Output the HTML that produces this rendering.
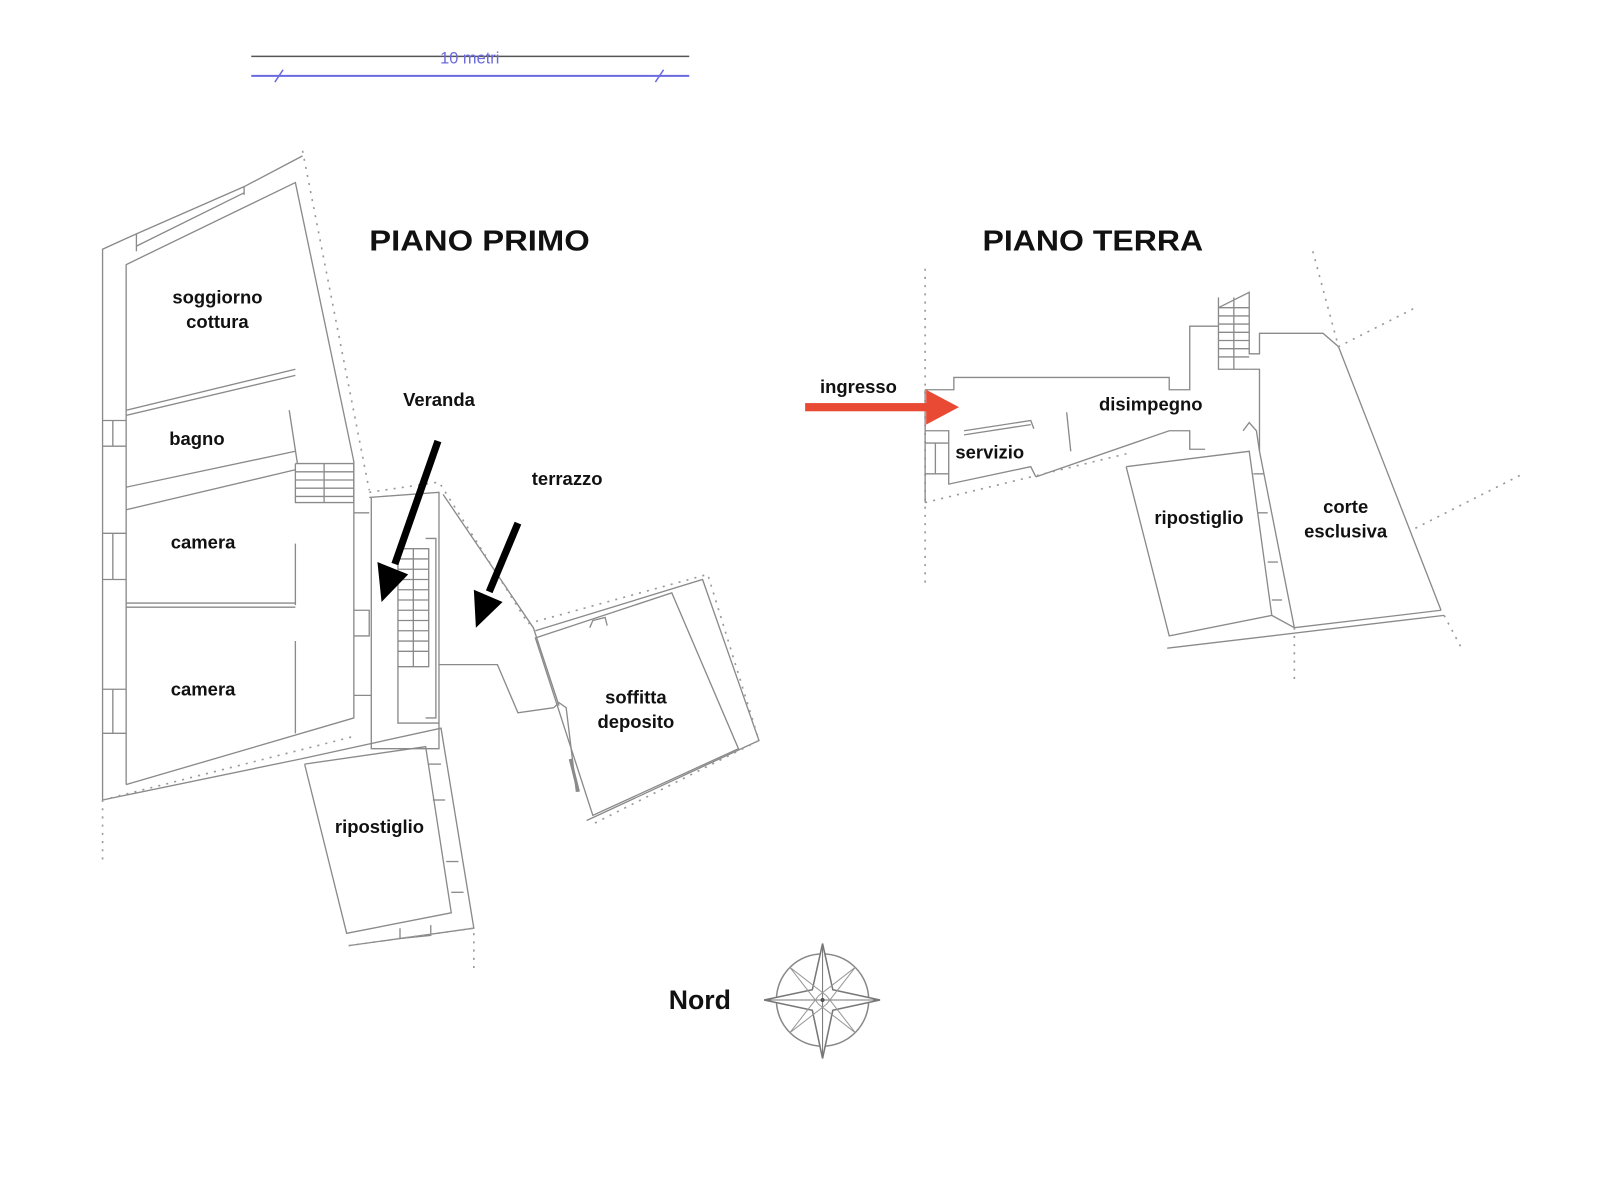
<!DOCTYPE html>
<html><head><meta charset="utf-8"><style>
html,body{margin:0;padding:0;background:#fff}
svg{display:block}
text{font-family:"Liberation Sans",Arial,sans-serif;font-weight:bold;fill:#111}
.w{fill:none;stroke:#8a8a8a;stroke-width:1.3}
.d{fill:none;stroke:#999;stroke-width:1.6;stroke-dasharray:2 6}
</style></head><body>
<svg width="1600" height="1200" viewBox="0 0 1560 1170" xmlns="http://www.w3.org/2000/svg">
<line x1="245" y1="55" x2="672" y2="55" stroke="#555" stroke-width="1.5"/>
<line x1="245" y1="74" x2="672" y2="74" stroke="#6a6ae0" stroke-width="2"/>
<line x1="268" y1="80" x2="276" y2="68" stroke="#6a6ae0" stroke-width="1.5"/>
<line x1="639" y1="80" x2="647" y2="68" stroke="#6a6ae0" stroke-width="1.5"/>
<text x="458" y="62" text-anchor="middle" font-size="16" style="fill:#6a6ae0;font-weight:normal">10 metri</text>

<text x="360" y="244" font-size="28" textLength="215" lengthAdjust="spacingAndGlyphs">PIANO PRIMO</text>
<text x="958" y="244" font-size="28" textLength="215" lengthAdjust="spacingAndGlyphs">PIANO TERRA</text>

<polyline class="w" points="100,780 100,243 133,228 238,182 295,152"/>
<polyline class="w" points="123,765 123,258 288,178 345,450 345,490"/>
<polyline class="w" points="133,240 238,188"/><polyline class="w" points="133,228 133,245"/><polyline class="w" points="238,182 238,190"/>
<polyline class="w" points="123,400 288,360"/><polyline class="w" points="123,405 288,366"/>
<polyline class="w" points="123,475 288,440"/><polyline class="w" points="282,400 290,452"/>
<polyline class="w" points="123,497 288,458"/>
<polyline class="w" points="123,588 288,588"/><polyline class="w" points="123,592 288,592"/>
<polyline class="w" points="288,530 288,590"/><polyline class="w" points="288,625 288,715"/>
<polyline class="w" points="123,765 345,700 345,490"/>
<polyline class="w" points="100,780 293,740"/>
<polyline class="w" points="100,410 123,410"/><polyline class="w" points="100,435 123,435"/><polyline class="w" points="110,410 110,435"/>
<polyline class="w" points="100,520 123,520"/><polyline class="w" points="100,565 123,565"/><polyline class="w" points="110,520 110,565"/>
<polyline class="w" points="100,672 123,672"/><polyline class="w" points="100,715 123,715"/><polyline class="w" points="110,672 110,715"/>
<polyline class="w" points="288,452 345,452 345,490 288,490 288,452"/>
<g class="w"><line x1="288" y1="460" x2="345" y2="460"/><line x1="288" y1="468" x2="345" y2="468"/><line x1="288" y1="476" x2="345" y2="476"/><line x1="288" y1="484" x2="345" y2="484"/><line x1="316" y1="452" x2="316" y2="490"/></g>
<polyline class="w" points="360,485 428,480 428,730 362,730 362,485"/>
<polyline class="w" points="345,500 360,500"/><polyline class="w" points="345,595 360,595 360,620 345,620"/>
<polyline class="w" points="345,678 362,678"/>
<polyline class="w" points="388,535 418,535 418,650 388,650 388,535"/>
<polyline class="w" points="388,650 388,705 428,705"/>
<polyline class="w" points="415,525 425,525 425,700 415,700"/>
<g class="w">
<line x1="388" y1="545" x2="418" y2="545"/><line x1="388" y1="555" x2="418" y2="555"/><line x1="388" y1="565" x2="418" y2="565"/><line x1="388" y1="575" x2="418" y2="575"/><line x1="388" y1="585" x2="418" y2="585"/><line x1="388" y1="595" x2="418" y2="595"/><line x1="388" y1="605" x2="418" y2="605"/><line x1="388" y1="615" x2="418" y2="615"/><line x1="388" y1="625" x2="418" y2="625"/><line x1="388" y1="635" x2="418" y2="635"/><line x1="403" y1="535" x2="403" y2="650"/></g>
<polyline class="w" points="432,482 520,612 545,688"/>
<polyline class="w" points="428,648 485,648 505,695 540,690"/>
<polyline class="d" points="360,480 428,470 515,608"/>
<polyline class="d" points="295,147 360,478"/>
<polyline class="w" points="297,745 415,728 440,890 338,910 297,745"/>
<polyline class="w" points="293,740 430,710 462,905 340,922"/>
<polyline class="w" points="418,745 430,745"/><polyline class="w" points="422,780 434,780"/><polyline class="w" points="435,840 447,840"/><polyline class="w" points="440,870 452,870"/>
<polyline class="w" points="390,905 390,915 420,912 420,902"/>
<polyline class="d" points="100,780 100,840"/><polyline class="d" points="100,780 345,718"/>
<polyline class="d" points="340,922 462,905 462,945"/>
<polygon class="w" points="522,622 655,578 720,730 578,795"/>
<polyline class="w" points="522,615 685,565 740,722 572,800"/>
<polyline class="d" points="515,608 690,560 740,722 575,805"/>
<polyline class="w" points="540,690 545,685 552,690 562,772"/>
<polyline class="w" points="556,740 564,772" style="stroke-width:3"/>
<polyline class="w" points="575,612 578,605 590,602 592,610"/>

<line x1="427" y1="430" x2="385" y2="550" stroke="#000" stroke-width="7"/>
<polygon points="372,587 368,548 398,560" fill="#000"/>
<line x1="505" y1="510" x2="477" y2="577" stroke="#000" stroke-width="7"/>
<polygon points="464,612 462,575 490,587" fill="#000"/>

<text x="212" y="296" text-anchor="middle" font-size="18">soggiorno</text>
<text x="212" y="320" text-anchor="middle" font-size="18">cottura</text>
<text x="192" y="434" text-anchor="middle" font-size="18">bagno</text>
<text x="198" y="535" text-anchor="middle" font-size="18">camera</text>
<text x="198" y="678" text-anchor="middle" font-size="18">camera</text>
<text x="428" y="396" text-anchor="middle" font-size="18">Veranda</text>
<text x="553" y="473" text-anchor="middle" font-size="18">terrazzo</text>
<text x="620" y="686" text-anchor="middle" font-size="18">soffitta</text>
<text x="620" y="710" text-anchor="middle" font-size="18">deposito</text>
<text x="370" y="812" text-anchor="middle" font-size="18">ripostiglio</text>

<polyline class="d" points="902,262 902,570"/>
<polyline class="w" points="902,380 930,380 930,368 1140,368 1140,380 1160,380 1160,318 1188,318"/>
<polyline class="w" points="902,380 902,490"/>
<polyline class="w" points="1188,300 1218,285 1218,345 1228,345 1228,325 1290,325 1305,338 1405,595"/>
<polyline class="w" points="1188,290 1188,360 1218,360"/>
<g class="w"><line x1="1188" y1="300" x2="1218" y2="300"/><line x1="1188" y1="308" x2="1218" y2="308"/><line x1="1188" y1="316" x2="1218" y2="316"/><line x1="1188" y1="324" x2="1218" y2="324"/><line x1="1188" y1="332" x2="1218" y2="332"/><line x1="1188" y1="340" x2="1218" y2="340"/><line x1="1188" y1="348" x2="1218" y2="348"/><line x1="1203" y1="290" x2="1203" y2="360"/></g>
<polyline class="w" points="1218,360 1228,360 1228,440"/>
<polyline class="w" points="1010,465 1140,420 1160,420 1160,438 1175,438"/>
<polyline class="w" points="902,420 925,420 925,472 1005,455 1010,465"/>
<polyline class="w" points="940,420 1005,410 1008,418"/><polyline class="w" points="940,424 1005,414"/>
<polyline class="w" points="1040,402 1044,440"/>
<polyline class="w" points="902,432 925,432"/><polyline class="w" points="902,462 925,462"/><polyline class="w" points="912,432 912,462"/>
<polyline class="d" points="902,490 1100,442"/>
<polyline class="w" points="1098,455 1218,440 1240,600 1140,620 1098,455"/>
<polyline class="w" points="1212,420 1218,412 1225,420 1228,440"/>
<polyline class="w" points="1228,440 1262,612"/>
<polyline class="w" points="1222,462 1232,462"/><polyline class="w" points="1226,500 1236,500"/><polyline class="w" points="1236,548 1246,548"/><polyline class="w" points="1240,585 1250,585"/>
<polyline class="w" points="1240,600 1262,612 1405,595"/>
<polyline class="w" points="1138,632 1408,600"/>
<polyline class="d" points="1280,245 1305,338 1380,300"/>
<polyline class="d" points="1380,515 1485,462"/>
<polyline class="d" points="1408,600 1425,632"/>
<polyline class="d" points="1262,612 1262,662"/>

<rect x="785" y="393" width="120" height="8" fill="#e84a34"/>
<polygon points="903,380 935,397 903,414" fill="#e84a34"/>

<text x="837" y="383" text-anchor="middle" font-size="18">ingresso</text>
<text x="1122" y="400" text-anchor="middle" font-size="18">disimpegno</text>
<text x="965" y="447" text-anchor="middle" font-size="18">servizio</text>
<text x="1169" y="511" text-anchor="middle" font-size="18">ripostiglio</text>
<text x="1312" y="500" text-anchor="middle" font-size="18">corte</text>
<text x="1312" y="524" text-anchor="middle" font-size="18">esclusiva</text>

<text x="652" y="984" font-size="26">Nord</text>
<circle cx="802" cy="975" r="45" fill="none" stroke="#888" stroke-width="1.5"/>
<polygon points="802,920 812,965 858,975 812,985 802,1032 792,985 745,975 792,965" fill="#fff" stroke="#777" stroke-width="1.5"/>
<line x1="802" y1="920" x2="802" y2="1032" stroke="#777" stroke-width="1"/>
<line x1="745" y1="975" x2="858" y2="975" stroke="#777" stroke-width="1"/>
<polygon points="770,943 806,971 834,1007 798,979" fill="none" stroke="#999" stroke-width="1"/>
<polygon points="834,943 798,971 770,1007 806,979" fill="none" stroke="#999" stroke-width="1"/>
<circle cx="802" cy="975" r="2" fill="#555"/>
</svg>
</body></html>
